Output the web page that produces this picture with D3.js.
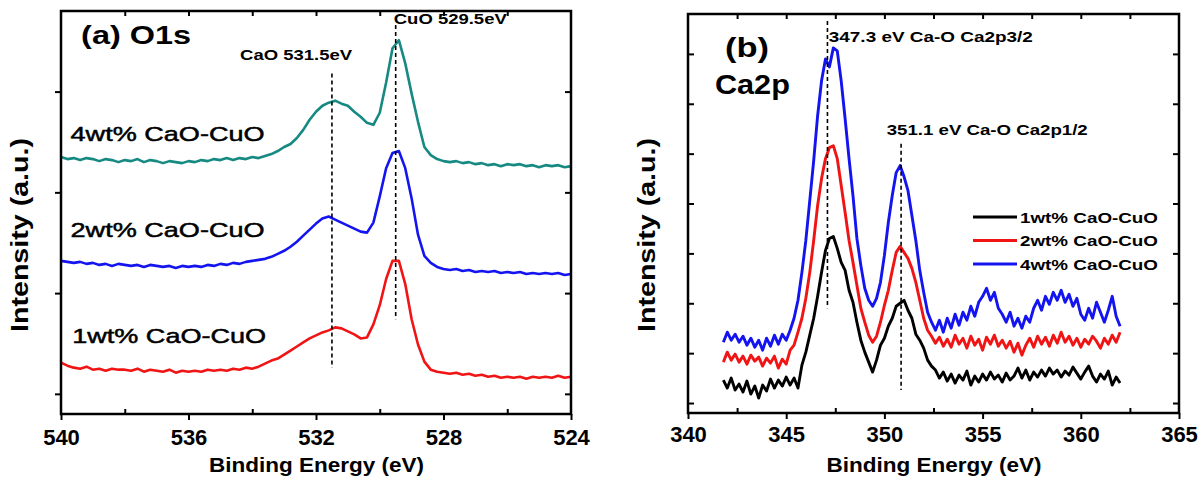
<!DOCTYPE html>
<html>
<head>
<meta charset="utf-8">
<script src="https://cdn.jsdelivr.net/npm/d3@7"></script>
<style>
  html, body { margin: 0; padding: 0; background: #fff; }
  svg { display: block; }
</style>
</head>
<body>
<div id="chart"></div>
<script>
// (a) O1s spectra, binding energy grid (eV) and intensity (a.u.)
var energyA = [540,539.8,539.6,539.4,539.2,539,538.8,538.6,538.4,538.2,
  538,537.8,537.6,537.4,537.2,537,536.8,536.6,536.4,536.2,
  536,535.8,535.6,535.4,535.2,535,534.8,534.6,534.4,534.2,
  534,533.8,533.6,533.4,533.2,533,532.8,532.6,532.4,532.2,
  532,531.8,531.6,531.4,531.2,531,530.8,530.6,530.4,530.2,
  530,529.8,529.6,529.4,529.2,529,528.8,528.6,528.4,528.2,
  528,527.8,527.6,527.4,527.2,527,526.8,526.6,526.4,526.2,
  526,525.8,525.6,525.4,525.2,525,524.8,524.6,524.4,524.2,
  524];
var o1s4wt = [255,253,254,252,254,253,251,253,252,250,
  252,251,253,250,252,251,249,251,250,249,
  251,250,252,251,253,252,254,252,254,253,
  255,254,256,258,261,265,268,274,282,292,
  300,306,309,311,308,306,300,295,289,287,
  299,329,363,371,348,318,290,265,257,253,
  251,250,251,249,250,248,249,247,248,246,
  248,247,248,246,247,245,247,246,247,245,
  246];
var o1s2wt = [152,151,150,151,149,150,148,149,147,149,
  148,147,148,146,148,147,146,147,145,147,
  146,147,146,148,147,149,148,150,149,151,
  152,153,154,156,159,162,166,171,177,183,
  189,194,196,193,190,187,184,181,180,190,
  216,244,259,261,244,214,178,157,150,146,
  144,143,144,142,143,141,142,141,142,140,
  141,140,141,139,140,139,140,139,140,138,
  139];
var o1s1wt = [51,48,46,45,47,44,45,43,45,44,
  44,43,45,42,44,43,42,44,41,43,
  42,43,42,44,43,44,43,45,44,46,
  45,47,50,53,55,59,63,67,71,75,
  78,81,83,86,85,82,79,75,76,89,
  108,134,152,152,129,94,69,52,44,42,
  41,40,41,39,40,38,39,37,38,36,
  37,36,37,35,37,36,37,36,38,36,
  37];

// (b) Ca2p spectra
var energyB = [341.8,342,342.2,342.4,342.6,342.8,343,343.2,343.4,343.6,
  343.8,344,344.2,344.4,344.6,344.8,345,345.2,345.4,345.6,
  345.8,346,346.2,346.4,346.6,346.8,347,347.2,347.4,347.6,
  347.8,348,348.2,348.4,348.6,348.8,349,349.2,349.4,349.6,
  349.8,350,350.2,350.4,350.6,350.8,351,351.2,351.4,351.6,
  351.8,352,352.2,352.4,352.6,352.8,353,353.2,353.4,353.6,
  353.8,354,354.2,354.4,354.6,354.8,355,355.2,355.4,355.6,
  355.8,356,356.2,356.4,356.6,356.8,357,357.2,357.4,357.6,
  357.8,358,358.2,358.4,358.6,358.8,359,359.2,359.4,359.6,
  359.8,360,360.2,360.4,360.6,360.8,361,361.2,361.4,361.6,
  361.8,362];
var ca2p1wt = [33,25,35,23,29,21,32,19,27,15,
  28,22,34,25,33,27,36,28,35,25,
  48,61,78,95,117,141,163,175,177,165,
  151,143,123,111,91,73,61,51,41,53,
  68,75,87,95,107,110,113,103,95,79,
  73,65,53,47,43,35,41,32,39,30,
  38,33,42,28,37,31,39,33,41,34,
  38,31,40,33,37,45,35,43,33,41,
  36,43,37,45,39,43,36,42,38,46,
  40,34,41,47,37,31,39,34,42,28,
  36,30];
var ca2p2wt = [51,61,53,59,51,57,49,58,52,56,
  47,55,50,57,45,54,49,63,68,81,
  95,115,141,173,208,235,255,266,268,255,
  228,201,173,151,128,105,91,78,71,77,
  91,108,123,143,161,167,161,155,145,131,
  113,95,83,77,70,76,67,74,66,78,
  69,75,65,77,68,74,63,76,69,78,
  67,73,65,72,61,70,58,68,75,66,
  77,69,76,67,78,70,81,71,77,68,
  75,66,74,69,77,72,65,75,69,78,
  71,81];
var ca2p4wt = [71,81,73,79,71,77,68,75,66,73,
  63,75,67,78,69,79,73,83,95,113,
  141,173,213,253,298,333,355,347,366,363,
  333,295,255,218,175,148,125,113,107,115,
  131,158,191,218,241,248,237,223,198,173,
  143,121,101,91,83,93,81,95,85,99,
  88,101,93,107,97,111,117,125,113,121,
  105,99,91,101,87,95,85,97,91,105,
  113,103,117,109,121,113,123,111,119,107,
  115,99,93,105,95,111,101,91,103,117,
  97,87];

var seriesLabels = ['1wt% CaO-CuO', '2wt% CaO-CuO', '4wt% CaO-CuO'];

var xTicksA = [540, 536, 532, 528, 524];
var xMinorA = [538, 534, 530, 526];
var xTopA = [538, 536, 534, 532, 530, 528, 526];
var yTicksA = [20, 120, 220, 320];

var xTicksB = [340, 345, 350, 355, 360, 365];
var xMinorB = [342.5, 347.5, 352.5, 357.5, 362.5];
var xTopB = [342.5, 345, 347.5, 350, 352.5, 355, 357.5, 360, 362.5];
var yTicksB = [10, 60, 110, 160, 210, 260, 310, 360];

// peak markers: [energy, top, bottom]
var peaksA = [[531.5, 338, 46], [529.5, 386, 94]];
var peaksB = [[347.1, 393, 105], [350.85, 270, 23]];

(function () {
  'use strict';

  var font = "'Liberation Sans', Arial, sans-serif";

  var svg = d3.select('#chart')
  .append('svg')
  .attr('width', 1203)
  .attr('height', 483)
  .style('background', '#fff');

  function pairs(xs, ys) {
    return xs.map(function (x, i) { return [x, ys[i]]; });
  }

  function label(g, txt, x, y, size, len, weight) {
    var t = g.append('text')
    .attr('x', x)
    .attr('y', y)
    .attr('font-family', font)
    .attr('font-size', size)
    .attr('font-weight', weight || 'bold')
    .attr('fill', '#000')
    .text(txt);
    if (len) {
      t.attr('textLength', len).attr('lengthAdjust', 'spacingAndGlyphs');
    }
    return t;
  }

  function drawPanel(p) {
    var g = svg.append('g');
    var x = p.x, y = p.y;
    var xl = x.range()[0], xr = x.range()[1],
    yb = y.range()[0], yt = y.range()[1];

    g.append('g')
    .attr('transform', 'translate(0,' + yb + ')')
    .call(d3.axisBottom(x).tickValues(p.xTicks).tickSize(6)
      .tickPadding(p.pad).tickFormat(d3.format('d')));

    g.append('g')
    .attr('transform', 'translate(0,' + yb + ')')
    .call(d3.axisBottom(x).tickValues(p.xMinor).tickSize(-5).tickFormat(''));

    g.append('g')
    .attr('transform', 'translate(0,' + yt + ')')
    .call(d3.axisTop(x).tickValues(p.xTop).tickSize(-5).tickFormat(''));

    g.append('g')
    .attr('transform', 'translate(' + xl + ',0)')
    .call(d3.axisLeft(y).tickValues(p.yTicks).tickSize(p.yOut).tickFormat(''));

    g.append('g')
    .attr('transform', 'translate(' + xr + ',0)')
    .call(d3.axisRight(y).tickValues(p.yTicks).tickSize(-6).tickFormat(''));

    g.selectAll('.domain').remove();
    g.selectAll('.tick line').attr('stroke', '#000').attr('stroke-width', 2);
    g.selectAll('.tick text')
    .attr('font-family', font)
    .attr('font-size', 22)
    .attr('font-weight', 'bold')
    .attr('fill', '#000');

    var line = d3.line()
    .x(function (d) { return x(d[0]); })
    .y(function (d) { return y(d[1]); });

    g.selectAll('.spectrum')
    .data(p.series)
    .enter()
    .append('path')
    .attr('class', 'spectrum')
    .attr('fill', 'none')
    .attr('stroke', function (d) { return d.color; })
    .attr('stroke-width', p.lineWidth)
    .attr('stroke-linejoin', 'round')
    .attr('d', function (d) { return line(pairs(p.energy, d.values)); });

    g.selectAll('.peak')
    .data(p.peaks)
    .enter()
    .append('line')
    .attr('class', 'peak')
    .attr('x1', function (d) { return x(d[0]); })
    .attr('x2', function (d) { return x(d[0]); })
    .attr('y1', function (d) { return y(d[1]); })
    .attr('y2', function (d) { return y(d[2]); })
    .attr('stroke', '#000')
    .attr('stroke-width', 1.6)
    .attr('stroke-dasharray', '4,3');

    g.append('rect')
    .attr('x', xl)
    .attr('y', yt)
    .attr('width', xr - xl)
    .attr('height', yb - yt)
    .attr('fill', 'none')
    .attr('stroke', '#000')
    .attr('stroke-width', 2.5);

    label(g, 'Binding Energy (eV)', (xl + xr) / 2 - 107, 472, 20, 215);

    label(g, 'Intensity (a.u.)', 0, 0, 23, 194)
    .attr('text-anchor', 'middle')
    .attr('transform', 'translate(' + p.yTitleX + ',235) rotate(-90)');

    return g;
  }

  // ---- (a) O1s ----
  var xA = d3.scaleLinear().domain([540, 524]).range([61, 571]);
  var yA = d3.scaleLinear().domain([0, 400]).range([414, 11]);

  var gA = drawPanel({
    x: xA, y: yA, pad: 9, yOut: 6, yTitleX: 28, lineWidth: 2.6,
    xTicks: xTicksA, xMinor: xMinorA, xTop: xTopA, yTicks: yTicksA,
    energy: energyA,
    peaks: peaksA,
    series: [
      {values: o1s1wt, color: '#f01414'},
      {values: o1s2wt, color: '#1414f0'},
      {values: o1s4wt, color: '#168a82'}
    ]
  });

  label(gA, '(a) O1s', xA(539.37), yA(367), 25, 110);
  label(gA, 'CaO 531.5eV', xA(534.38), yA(351), 14, 112);
  label(gA, 'CuO 529.5eV', xA(529.56), yA(387), 14, 113);
  [[2, 271, 539.7], [1, 176, 539.7], [0, 70, 539.65]].forEach(function (r) {
    label(gA, seriesLabels[r[0]], xA(r[2]), yA(r[1]), 21, 194, 'normal')
    .attr('stroke', '#000')
    .attr('stroke-width', 0.5);
  });

  // ---- (b) Ca2p ----
  var xB = d3.scaleLinear().domain([340, 365]).range([688, 1179]);
  var yB = d3.scaleLinear().domain([0, 400]).range([413, 14]);

  var colorsB = ['#000000', '#f01414', '#1414f0'];

  var gB = drawPanel({
    x: xB, y: yB, pad: 7, yOut: -6, yTitleX: 655, lineWidth: 2.9,
    xTicks: xTicksB, xMinor: xMinorB, xTop: xTopB, yTicks: yTicksB,
    energy: energyB,
    peaks: peaksB,
    series: [
      {values: ca2p4wt, color: colorsB[2]},
      {values: ca2p2wt, color: colorsB[1]},
      {values: ca2p1wt, color: colorsB[0]}
    ]
  });

  label(gB, '(b)', xB(341.88), yB(357), 27, 44);
  label(gB, 'Ca2p', xB(341.37), yB(320), 27, 75);
  label(gB, '347.3 eV Ca-O Ca2p3/2', xB(347.17), yB(372), 15, 204);
  label(gB, '351.1 eV Ca-O Ca2p1/2', xB(350.12), yB(279), 15, 201);

  var legend = gB.append('g')
  .attr('transform', 'translate(973,217)');

  var rows = legend.selectAll('.row')
  .data(seriesLabels)
  .enter()
  .append('g')
  .attr('class', 'row')
  .attr('transform', function (d, i) { return 'translate(0,' + (i * 23.5) + ')'; });

  rows.append('line')
  .attr('x1', 0)
  .attr('x2', 44)
  .attr('stroke', function (d, i) { return colorsB[i]; })
  .attr('stroke-width', 3);

  rows.append('text')
  .attr('x', 47)
  .attr('y', 5.5)
  .attr('font-family', font)
  .attr('font-size', 15)
  .attr('font-weight', 'bold')
  .attr('textLength', 138)
  .attr('lengthAdjust', 'spacingAndGlyphs')
  .text(function (d) { return d; });
}());
</script>
</body>
</html>
